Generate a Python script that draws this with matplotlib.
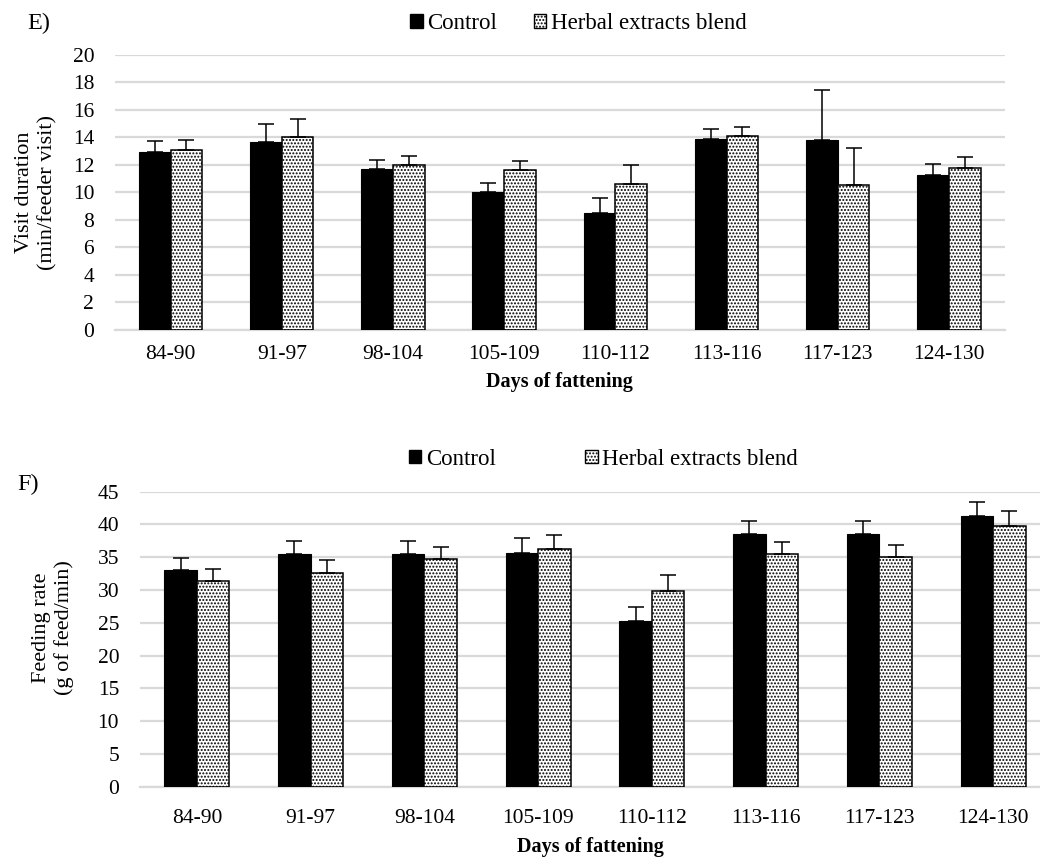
import numpy as np
import matplotlib
matplotlib.use("Agg")
import matplotlib.pyplot as plt
from matplotlib.patches import Patch

# ── Data ─────────────────────────────────────────────────────────────────────
periods = ["84-90", "91-97", "98-104", "105-109", "110-112", "113-116", "117-123", "124-130"]

# E) visit duration, min/feeder visit (mean and upper SE)
visit_ctrl     = [12.95, 13.65, 11.68, 10.03, 8.48, 13.91, 13.84, 11.24]
visit_ctrl_se  = [0.78, 1.35, 0.70, 0.68, 1.13, 0.71, 3.59, 0.80]
visit_herb     = [13.09, 14.03, 12.00, 11.61, 10.59, 14.13, 10.52, 11.75]
visit_herb_se  = [0.75, 1.34, 0.65, 0.65, 1.38, 0.66, 2.69, 0.81]

# F) feeding rate, g of feed/min
rate_ctrl      = [33.1, 35.45, 35.45, 35.7, 25.2, 38.5, 38.6, 41.25]
rate_ctrl_se   = [1.8, 2.05, 2.05, 2.3, 2.2, 2.1, 2.0, 2.25]
rate_herb      = [31.4, 32.6, 34.7, 36.2, 29.8, 35.45, 35.1, 39.8]
rate_herb_se   = [1.8, 2.0, 1.9, 2.15, 2.5, 1.95, 1.8, 2.25]

SERIES = ["Control", "Herbal extracts blend"]

plt.rcParams["font.family"] = ["Liberation Serif", "DejaVu Serif"]
plt.rcParams["hatch.linewidth"] = 0.95
GRID  = "#d9d9d9"
HATCH = "....."
W = 0.285


def draw_panel(ax, ctrl, ctrl_se, herb, herb_se, ymax, ystep, xpad):
    x = np.arange(len(periods))
    zeros = np.zeros(len(periods))
    ax.bar(x - W / 2, ctrl, W, color="black", edgecolor="black", lw=0.8, zorder=3)
    ax.bar(x + W / 2, herb, W, color="white", edgecolor="black", hatch=HATCH,
           lw=1.1, zorder=3)
    for xs, ys, es in ((x - W / 2, ctrl, ctrl_se), (x + W / 2, herb, herb_se)):
        ax.errorbar(xs, ys, yerr=[zeros, es], fmt="none", ecolor="black",
                    elinewidth=1.1, capsize=6, capthick=1.1, zorder=4)
    ax.set_ylim(0, ymax)
    ax.set_yticks(np.arange(0, ymax + 0.1, ystep))
    ax.yaxis.grid(True, color=GRID, lw=1.6, zorder=0)
    ax.set_axisbelow(True)
    for s in ("top", "right", "left"):
        ax.spines[s].set_visible(False)
    ax.spines["bottom"].set_color(GRID)
    ax.spines["bottom"].set_linewidth(1.6)
    ax.tick_params(axis="both", length=0, labelsize=15.5)
    ax.tick_params(axis="y", pad=15)
    ax.tick_params(axis="x", pad=xpad)
    ax.set_xticks(x)
    ax.set_xticklabels(periods)


fig = plt.figure(figsize=(10.4, 8.63), dpi=100)

ax1 = fig.add_axes([0.1106, 0.6180, 0.8553, 0.3183])
draw_panel(ax1, visit_ctrl, visit_ctrl_se, visit_herb, visit_herb_se, 20, 2, 11)
ax1.set_xlim(-0.5, 7.5)
ax1.set_xlabel("Days of fattening", fontsize=14.5, fontweight="bold", labelpad=6)

ax2 = fig.add_axes([0.1346, 0.0886, 0.8654, 0.3416])
draw_panel(ax2, rate_ctrl, rate_ctrl_se, rate_herb, rate_herb_se, 45, 5, 16)
ax2.set_xlim(-0.5, 7.412)
ax2.set_xlabel("Days of fattening", fontsize=14.5, fontweight="bold", labelpad=7)

# y-axis titles, two lines each
fig.text(36 / 1040, 1 - 192 / 863, "Visit duration\n(min/feeder visit)", fontsize=16,
         rotation=90, ha="center", va="center", multialignment="center",
         linespacing=1.25)
fig.text(53 / 1040, 1 - 628 / 863, "Feeding rate\n(g of feed/min)", fontsize=16,
         rotation=90, ha="center", va="center", multialignment="center",
         linespacing=1.25)

# legends above each panel
handles = [Patch(facecolor="black", edgecolor="black"),
           Patch(facecolor="white", edgecolor="black", hatch=HATCH)]
fig.legend(handles, SERIES, loc="center", bbox_to_anchor=(0.556, 0.973), ncol=2,
           frameon=False, fontsize=16.5, handlelength=0.55, handleheight=0.55,
           handletextpad=0.2, columnspacing=1.6)
fig.legend(handles, SERIES, loc="center", bbox_to_anchor=(0.580, 0.468), ncol=2,
           frameon=False, fontsize=16.5, handlelength=0.55, handleheight=0.55,
           handletextpad=0.2, columnspacing=3.9)

fig.text(0.026, 0.973, "E)", fontsize=17.5, va="center", ha="left")
fig.text(0.017, 0.439, "F)", fontsize=17.5, va="center", ha="left")

fig.savefig("out.png", dpi=100)
